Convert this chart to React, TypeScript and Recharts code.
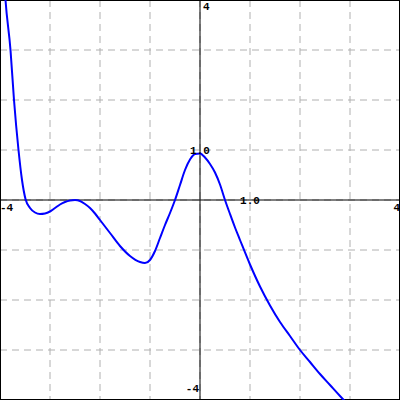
import { LineChart, Line, XAxis, YAxis, CartesianGrid, ReferenceLine, ReferenceDot } from 'recharts'

// curve samples
const xs = [
  -3.91, -3.89, -3.79, -3.72, -3.63, -3.56, -3.49, -3.4, -3.3, -3.2, -3.1, -3.0, -2.9, -2.8, -2.7, -2.6, -2.5,
  -2.4, -2.3, -2.2, -2.1, -2.0, -1.8, -1.6, -1.4, -1.2, -1.1, -1.0, -0.9, -0.8, -0.7, -0.6, -0.5,
  -0.4, -0.3, -0.2, -0.1, 0.0, 0.1, 0.2, 0.3, 0.4, 0.5, 0.6, 0.7, 0.8, 1.0, 1.2, 1.4, 1.6, 1.8,
  2.0, 2.2, 2.4, 2.6, 2.8, 2.95,
]
const ys = [
  4.3, 4, 3, 2, 1, 0.4, 0.02, -0.16, -0.25, -0.28, -0.27, -0.23, -0.16, -0.09, -0.04, -0.01, 0.0,
  -0.02, -0.08, -0.16, -0.27, -0.4, -0.66, -0.92, -1.12, -1.24, -1.26, -1.2, -1.02, -0.76, -0.5, -0.26, 0.0,
  0.3, 0.6, 0.81, 0.92, 0.93, 0.85, 0.72, 0.55, 0.31, 0.0, -0.28, -0.55, -0.8, -1.29, -1.73, -2.11, -2.44, -2.72,
  -3.0, -3.24, -3.48, -3.7, -3.92, -4.08,
]

const gridTicks = [-4, -3, -2, -1, 0, 1, 2, 3, 4]
const xLabelValues = [-4, 1, 4]
const xLabelTexts = ['-4', '1.0', '4']
const yLabelValues = [4, 1, -4]
const yLabelTexts = ['4', '1.0', '-4']

const data = xs.map((x, i) => ({ x, y: ys[i] }))

const labelStyle = { fontFamily: 'Liberation Mono, monospace', fontWeight: 700, fontSize: 11, fill: '#000' }

export default function App() {
  return (
    <div style={{ position: 'absolute', left: 0, top: 0, width: 400, height: 400, background: '#fff' }}>
      <LineChart width={400} height={400} data={data} margin={{ top: 0, right: 0, bottom: 0, left: 0 }}>
        <XAxis dataKey="x" type="number" domain={[-4, 4]} ticks={gridTicks} hide allowDataOverflow />
        <YAxis type="number" domain={[-4, 4]} ticks={gridTicks} hide allowDataOverflow />
        <CartesianGrid stroke="#b0b0b0" strokeDasharray="7 5" />
        <ReferenceLine x={0} stroke="#000" strokeWidth={1} />
        <ReferenceLine y={0} stroke="#000" strokeWidth={1} />
        <ReferenceLine x={-4} stroke="#000" strokeWidth={2} />
        <ReferenceLine x={4} stroke="#000" strokeWidth={2} />
        <ReferenceLine y={-4} stroke="#000" strokeWidth={2} />
        <ReferenceLine y={4} stroke="#000" strokeWidth={2} />
        <Line dataKey="y" type="monotone" stroke="#0000ff" strokeWidth={2} dot={false} isAnimationActive={false} />
        {xLabelValues.map((v, i) => {
          const last = i === xLabelValues.length - 1
          const anchor = i === 0 ? 'start' : last ? 'end' : 'middle'
          const dy = i === 0 || last ? 11 : 4
          return (
            <ReferenceDot
              key={'x' + i}
              x={v}
              y={0}
              r={0}
              ifOverflow="visible"
              shape={(p: any) => (
                <text x={p.cx} y={p.cy} dy={dy} textAnchor={anchor} style={labelStyle}>{xLabelTexts[i]}</text>
              )}
            />
          )
        })}
        {yLabelValues.map((v, i) => {
          const last = i === yLabelValues.length - 1
          const anchor = i === 0 ? 'start' : last ? 'end' : 'middle'
          const dx = i === 0 ? 3 : last ? -1 : 0
          const dy = i === 0 ? 10 : last ? -8 : 4
          return (
            <ReferenceDot
              key={'y' + i}
              x={0}
              y={v}
              r={0}
              ifOverflow="visible"
              shape={(p: any) => (
                <text x={p.cx} y={p.cy} dx={dx} dy={dy} textAnchor={anchor} style={labelStyle}>{yLabelTexts[i]}</text>
              )}
            />
          )
        })}
      </LineChart>
    </div>
  )
}
